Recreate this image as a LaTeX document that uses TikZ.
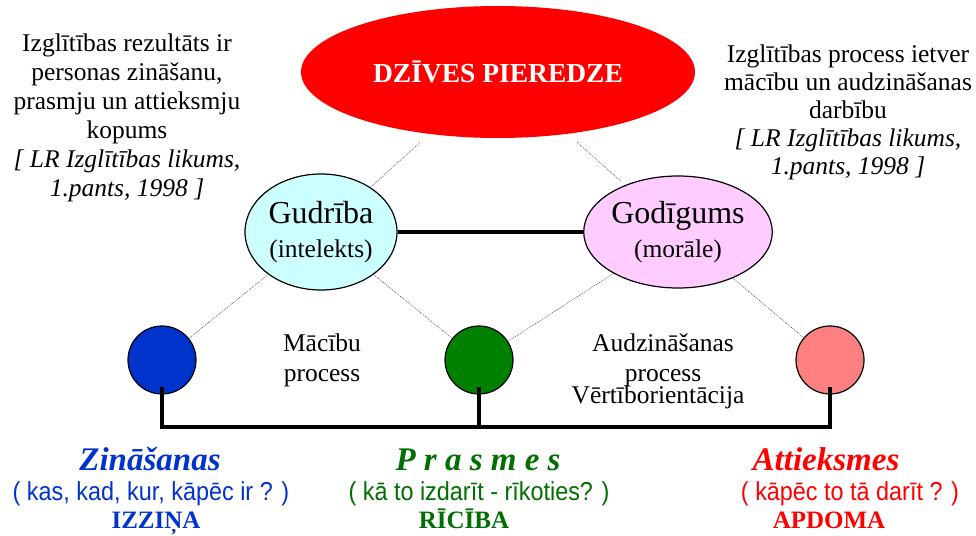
\documentclass[tikz,border=0pt]{standalone}
\usepackage{fontspec}
\setmainfont{Liberation Serif}
\newfontfamily\narrowsans[FakeStretch=0.9]{Liberation Sans}
\usetikzlibrary{shapes.geometric}
\definecolor{zinblue}{RGB}{0,51,204}
\definecolor{prasgreen}{RGB}{0,128,0}
\definecolor{prastext}{RGB}{0,110,0}
\definecolor{attpink}{RGB}{255,128,128}
\definecolor{gudcyan}{RGB}{204,255,255}
\definecolor{godpink}{RGB}{255,204,255}
\newcommand{\fs}[2]{\fontsize{#1}{#2}\selectfont}

\begin{document}
\begin{tikzpicture}[x=1pt, y=-1pt,
  oval/.style = {draw, ellipse, line width=1.2pt, inner sep=0pt},
  ball/.style = {draw, circle, line width=1.2pt, minimum size=68pt, inner sep=0pt},
  bar/.style = {line width=4pt},
  link/.style = {gray!70!black, line width=0.6pt, dash pattern=on 1pt off 1pt},
  txt/.style = {align=center, font=\fs{25.5}{29}},
  head/.style = {anchor=base, font=\bfseries\itshape\fs{33}{33}},
  ask/.style = {anchor=base, font=\narrowsans\fs{26}{26}},
  act/.style = {anchor=base, font=\bfseries\fs{25}{25}}]
\useasboundingbox (0,0) rectangle (976,535);

% top
\node[oval, draw=none, fill=red, minimum width=394pt, minimum height=132pt,
  text=white, font=\bfseries\fs{27.5}{30}] (dz) at (498,72) {DZĪVES PIEREDZE};
\node[oval, fill=gudcyan, minimum width=152pt, minimum height=116pt,
  align=center, font=\fs{32}{34}] (gud) at (321,232) {Gudrība\\{\fs{25.5}{28}(intelekts)}};
\node[oval, fill=godpink, minimum width=164pt, minimum height=112pt,
  align=center, font=\fs{32}{34}] (god) at (678,232) {Godīgums\\{\fs{25.5}{28}(morāle)}};

% circles
\node[ball, fill=zinblue] (zin) at (162,360) {};
\node[ball, fill=prasgreen] (pra) at (479,360) {};
\node[ball, fill=attpink] (att) at (830,360) {};

% notes
\node[txt] (left) at (127,118) {Izglītības rezultāts ir\\personas zināšanu,\\prasmju un attieksmju\\kopums\\
  \textit{[ LR Izglītības likums,}\\\textit{1.pants, 1998 ]}};
\node[txt, font=\fs{25.5}{28}] (right) at (848,112) {Izglītības process ietver\\mācību un audzināšanas\\darbību\\
  \textit{[ LR Izglītības likums,}\\\textit{1.pants, 1998 ]}};
\node[txt, font=\fs{25.5}{30}] (mac) at (322,360) {Mācību\\process};
\node[txt, font=\fs{25.5}{30}] (audz) at (663,360) {Audzināšanas\\process};
\node[txt] (vert) at (658,397) {Vērtīborientācija};

% connectors
\draw[link, shorten >=12pt] (gud) -- (dz);
\draw[link, shorten <=12pt, shorten >=6pt] (dz) -- (god);
\draw[link] (gud) -- (zin);
\draw[link] (gud) -- (pra);
\draw[link] (god) -- (pra);
\draw[link] (god) -- (att);
\draw[bar] (gud) -- (god);
\draw[bar] ([yshift=8pt]zin.south) -- ++(0,40) -| ([yshift=8pt]att.south);
\draw[bar] ([yshift=8pt]pra.south) -- ++(0,40);

% bottom
\node[head, text=zinblue] (zint) at (150,470) {Zināšanas};
\node[ask, text=zinblue] (zinq) at (151,500) {( kas, kad, kur, kāpēc ir ? )};
\node[act, text=zinblue] (zina) at (156,528) {IZZIŅA};
\node[head, text=prastext] (prat) at (478,470) {P r a s m e s};
\node[ask, text=prastext] (praq) at (479,500) {( kā to izdarīt - rīkoties? )};
\node[act, text=prastext] (praa) at (464,528) {RĪCĪBA};
\node[head, text=red] (attt) at (826,470) {Attieksmes};
\node[ask, text=red] (attq) at (850,500) {( kāpēc to tā darīt ? )};
\node[act, text=red] (atta) at (829,528) {APDOMA};
\end{tikzpicture}
\end{document}
